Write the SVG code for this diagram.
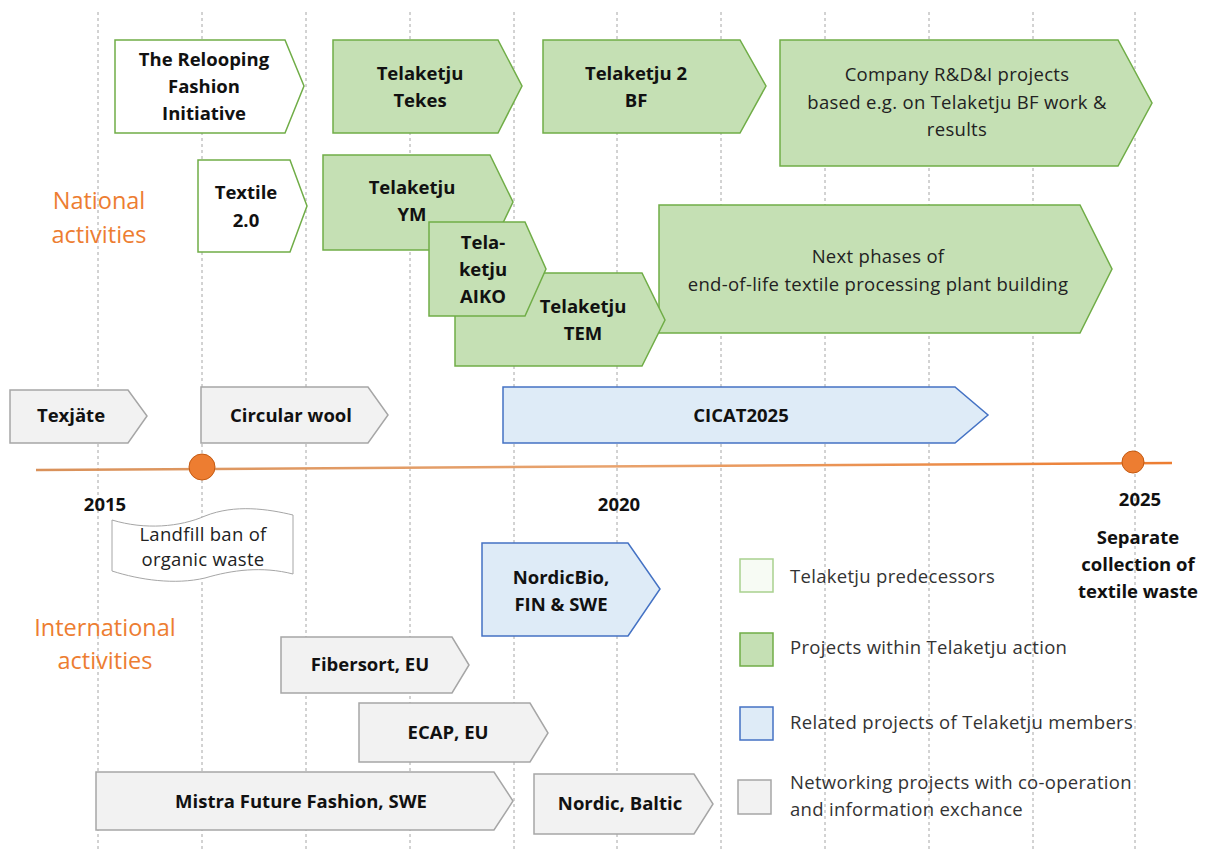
<svg xmlns="http://www.w3.org/2000/svg" width="1206" height="849" viewBox="0 0 1206 849">
<defs>
<style>
.grid{stroke:#A6A6A6;stroke-width:1;stroke-dasharray:3 3;fill:none}
.pre{fill:#FFFFFF;stroke:#70AD47;stroke-width:1.5}
.grn{fill:#C5E0B4;stroke:#70AD47;stroke-width:1.5}
.blu{fill:#DEEBF7;stroke:#4472C4;stroke-width:1.5}
.gry{fill:#F2F2F2;stroke:#A6A6A6;stroke-width:1.5}
.b{font-family:"Open Sans","Liberation Sans",sans-serif;font-weight:bold;font-size:18.5px;fill:#111;text-anchor:middle}
.r{font-family:"Open Sans","Liberation Sans",sans-serif;font-size:18.5px;letter-spacing:0.3px;fill:#222;text-anchor:middle}
.lg{font-family:"Open Sans","Liberation Sans",sans-serif;font-size:18.5px;letter-spacing:0.3px;fill:#333}
.or{font-family:"Open Sans","Liberation Sans",sans-serif;font-size:23.5px;fill:#ED7D31;text-anchor:middle}
</style>
<linearGradient id="tl" x1="0" y1="0" x2="1" y2="0">
<stop offset="0" stop-color="#D9915A"/>
<stop offset="0.5" stop-color="#E8A36E"/>
<stop offset="1" stop-color="#ED7D31"/>
</linearGradient>
</defs>
<rect width="1206" height="849" fill="#FFFFFF"/>
<g id="gridlines">
<line class="grid" x1="98" y1="12" x2="98" y2="849"/>
<line class="grid" x1="202" y1="12" x2="202" y2="849"/>
<line class="grid" x1="306" y1="12" x2="306" y2="849"/>
<line class="grid" x1="410" y1="12" x2="410" y2="849"/>
<line class="grid" x1="514" y1="12" x2="514" y2="849"/>
<line class="grid" x1="617" y1="12" x2="617" y2="849"/>
<line class="grid" x1="721" y1="12" x2="721" y2="849"/>
<line class="grid" x1="825" y1="12" x2="825" y2="849"/>
<line class="grid" x1="929" y1="12" x2="929" y2="849"/>
<line class="grid" x1="1033" y1="12" x2="1033" y2="849"/>
<line class="grid" x1="1135" y1="12" x2="1135" y2="849"/>
</g>
<g id="connectors">
<line x1="36" y1="470" x2="1172" y2="463" stroke="url(#tl)" stroke-width="2.5"/>
</g>
<g id="milestone-2016">
<circle cx="202" cy="467" r="13" fill="#ED7D31" stroke="#C55A11" stroke-width="1"/>
</g>
<g id="milestone-2025">
<circle cx="1133" cy="462" r="11" fill="#ED7D31" stroke="#C55A11" stroke-width="1"/>
</g>
<g id="labels">
<text class="or" x="99" y="209">National</text>
<text class="or" x="99" y="243">activities</text>
<text class="or" x="105" y="636">International</text>
<text class="or" x="105" y="669">activities</text>
<text class="b" x="105" y="511">2015</text>
<text class="b" x="619" y="511">2020</text>
<text class="b" x="1140" y="506">2025</text>
<text class="b" x="1138" y="544">Separate</text>
<text class="b" x="1138" y="571">collection of</text>
<text class="b" x="1138" y="598">textile waste</text>
</g>
<g id="relooping">
<path class="pre" d="M115,40 H285 L304,86 L285,133 H115 Z"/>
<text class="b" x="204" y="66">The Relooping</text>
<text class="b" x="204" y="93">Fashion</text>
<text class="b" x="204" y="120">Initiative</text>
</g>
<g id="tekes">
<path class="grn" d="M333,40 H498 L522,86 L498,133 H333 Z"/>
<text class="b" x="420" y="80">Telaketju</text>
<text class="b" x="420" y="107">Tekes</text>
</g>
<g id="bf">
<path class="grn" d="M543,40 H740 L766,86 L740,133 H543 Z"/>
<text class="b" x="636" y="80">Telaketju 2</text>
<text class="b" x="636" y="107">BF</text>
</g>
<g id="company">
<path class="grn" d="M780,40 H1118 L1152,103 L1118,166 H780 Z"/>
<text class="r" x="957" y="81">Company R&amp;D&amp;I projects</text>
<text class="r" x="957" y="109">based e.g. on Telaketju BF work &amp;</text>
<text class="r" x="957" y="136">results</text>
</g>
<g id="textile20">
<path class="pre" d="M198,160 H290 L307,206 L290,252 H198 Z"/>
<text class="b" x="246" y="199">Textile</text>
<text class="b" x="246" y="227">2.0</text>
</g>
<g id="ym">
<path class="grn" d="M323,155 H490 L513,202 L490,250 H323 Z"/>
<text class="b" x="412" y="194">Telaketju</text>
<text class="b" x="412" y="221">YM</text>
</g>
<g id="next">
<path class="grn" d="M659,205 H1080 L1112,269 L1080,333 H659 Z"/>
<text class="r" x="878" y="263">Next phases of</text>
<text class="r" x="878" y="291">end-of-life textile processing plant building</text>
</g>
<g id="tem">
<path class="grn" d="M455,273 H642 L665,320 L642,366 H455 Z"/>
<text class="b" x="583" y="313">Telaketju</text>
<text class="b" x="583" y="340">TEM</text>
</g>
<g id="aiko">
<path class="grn" d="M429,222 H525 L546,269 L525,316 H429 Z"/>
<text class="b" x="483" y="249">Tela-</text>
<text class="b" x="483" y="276">ketju</text>
<text class="b" x="483" y="303">AIKO</text>
</g>
<g id="texjate">
<path class="gry" d="M10,390 H128 L147,416 L128,443 H10 Z"/>
<text class="b" x="71" y="422">Texjäte</text>
</g>
<g id="circular">
<path class="gry" d="M201,387 H368 L388,415 L368,443 H201 Z"/>
<text class="b" x="291" y="422">Circular wool</text>
</g>
<g id="cicat">
<path class="blu" d="M503,387 H955 L988,415 L955,443 H503 Z"/>
<text class="b" x="741" y="422">CICAT2025</text>
</g>
<g id="landfill">
<path d="M112,520 C145,530 180,527 205,516 C235,504 268,509 293,515 L293,574 C262,566 232,570 205,578 C175,585 140,580 112,571 Z" fill="#FFFFFF" stroke="#A6A6A6" stroke-width="1"/>
<text class="r" x="203" y="541">Landfill ban of</text>
<text class="r" x="203" y="566">organic waste</text>
</g>
<g id="nordicbio">
<path class="blu" d="M482,543 H628 L660,589 L628,636 H482 Z"/>
<text class="b" x="561" y="584">NordicBio,</text>
<text class="b" x="561" y="611">FIN &amp; SWE</text>
</g>
<g id="fibersort">
<path class="gry" d="M281,637 H452 L469,665 L452,693 H281 Z"/>
<text class="b" x="370" y="671">Fibersort, EU</text>
</g>
<g id="ecap">
<path class="gry" d="M359,703 H530 L548,733 L530,762 H359 Z"/>
<text class="b" x="448" y="739">ECAP, EU</text>
</g>
<g id="mistra">
<path class="gry" d="M96,772 H494 L513,801 L494,830 H96 Z"/>
<text class="b" x="301" y="808">Mistra Future Fashion, SWE</text>
</g>
<g id="nordicbaltic">
<path class="gry" d="M534,774 H694 L713,804 L694,834 H534 Z"/>
<text class="b" x="620" y="810">Nordic, Baltic</text>
</g>
<g id="legend">
<rect x="740" y="559" width="33" height="33" fill="#F7FBF4" stroke="#A9D18E" stroke-width="1.5"/>
<text class="lg" x="790" y="583">Telaketju predecessors</text>
<rect x="740" y="633" width="33" height="33" class="grn"/>
<text class="lg" x="790" y="654">Projects within Telaketju action</text>
<rect x="740" y="707" width="33" height="33" class="blu"/>
<text class="lg" x="790" y="729">Related projects of Telaketju members</text>
<rect x="738" y="780" width="33" height="34" class="gry"/>
<text class="lg" x="790" y="789">Networking projects with co-operation</text>
<text class="lg" x="790" y="816">and information exchance</text>
</g>
</svg>
